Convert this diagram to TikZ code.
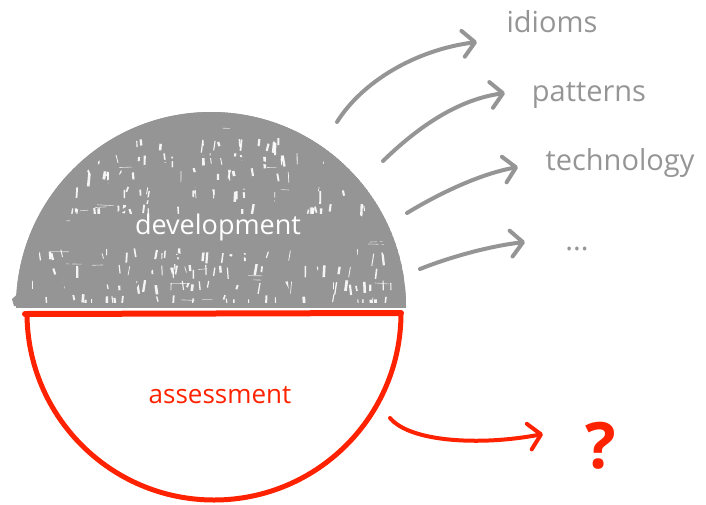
\documentclass[tikz,border=0pt]{standalone}
\usepackage{fontspec}
\setmainfont{Open Sans}
\usetikzlibrary{arrows.meta}
\definecolor{ink}{HTML}{959595}
\definecolor{hot}{HTML}{FF2200}
\tikzset{
  garrow/.style={ink, line width=4pt, line cap=round,
    -{Straight Barb[length=12pt,width=26pt,round]}},
  rarrow/.style={hot, line width=4pt, line cap=round,
    -{Straight Barb[length=12pt,width=26pt,round]}},
  glabel/.style={ink, font=\fontsize{29}{30}\selectfont, inner sep=0pt},
}
\begin{document}
\begin{tikzpicture}[x=1pt,y=-1pt]
\useasboundingbox (0,0) rectangle (706,504);

% upper dome: scribbled grey half disc
\begin{scope}
  \clip (0,0) rectangle (706,307);
  \fill[ink] (211,307) circle[radius=195pt];
\end{scope}
\fill[ink] (12,299) -- (22,290) -- (26,307) -- (14,306) -- cycle;
% light gaps between the scribbles, in loose rows
\begin{scope}
  \clip (0,0) rectangle (706,302);
  \clip (211,307) circle[radius=184pt];
  \pgfmathsetseed{11}
  \foreach \row in {138,152,168,186,204,248,264,280,294}{
    \foreach \i in {1,...,26}{
      \pgfmathsetmacro{\px}{25+370*rnd}
      \pgfmathsetmacro{\py}{\row+6*rnd}
      \pgfmathsetmacro{\len}{4+9*rnd}
      \pgfmathsetmacro{\lw}{0.6+2.2*rnd}
      \pgfmathsetmacro{\tilt}{-2+4*rnd}
      \draw[white, line width=\lw pt, opacity=0.9]
        (\px,\py) -- ++(\tilt,\len);
    }
  }
  \foreach \i in {1,...,30}{
    \pgfmathsetmacro{\px}{30+360*rnd}
    \pgfmathsetmacro{\py}{125+175*rnd}
    \pgfmathsetmacro{\len}{6+14*rnd}
    \draw[white, line width=0.6pt, opacity=0.7]
      (\px,\py) -- ++(\len,1-2*rnd);
  }
\end{scope}
% scribble loops and outer rim
\begin{scope}
  \clip (0,0) rectangle (706,305);
  \clip (211,307) circle[radius=195pt];
  \foreach \r in {60,95,130,165}{
    \draw[ink, line width=2.5pt] (211,305) ellipse[x radius=\r pt+20pt, y radius=\r pt*0.9];
  }
  \draw[ink, line width=4pt] (211,307) circle[radius=193pt];
\end{scope}
\fill[ink] (70,214) rectangle (360,244);

% lower bowl: red outline
\begin{scope}
  \clip (0,313) rectangle (706,504);
  \draw[hot, line width=5pt] (214,313) circle[radius=187pt];
\end{scope}
\coordinate (rl) at (25,314);
\coordinate (rr) at (401,313);
\draw[hot, line width=6pt, line cap=round] (rl) -- (rr);

% labels inside the halves
\node[white, font=\fontsize{27}{28}\selectfont, inner sep=0pt] (dev) at (218,227) {development};
\node[hot, font=\fontsize{26}{28}\selectfont, inner sep=0pt] (ass) at (220,395) {assessment};

% outcome labels
\node[glabel] (idi) at (552,22) {idioms};
\node[glabel] (pat) at (589,95) {patterns};
\node[glabel] (tec) at (620,163) {technology};
\node[glabel] (etc) at (577,249) {...};
\node[hot, font=\bfseries\fontsize{64}{64}\selectfont, inner sep=0pt] (que) at (601,446) {?};

% arrow ends
\coordinate (s1) at (337,122);
\coordinate (t1) at (477,42);
\coordinate (s2) at (383,161);
\coordinate (t2) at (505,93);
\coordinate (s3) at (407,213);
\coordinate (t3) at (518,167);
\coordinate (s4) at (420,269);
\coordinate (t4) at (525,242);
\coordinate (s5) at (390,418);
\coordinate (t5) at (543,434);

\draw[garrow] (s1) .. controls (362,82) and (415,50) .. (t1);
\draw[garrow] (s2) .. controls (415,130) and (455,100) .. (t2);
\draw[garrow] (s3) .. controls (440,193) and (480,174) .. (t3);
\draw[garrow] (s4) .. controls (450,257) and (490,246) .. (t4);
\draw[rarrow] (s5) .. controls (410,442) and (480,446) .. (t5);
\end{tikzpicture}
\end{document}
